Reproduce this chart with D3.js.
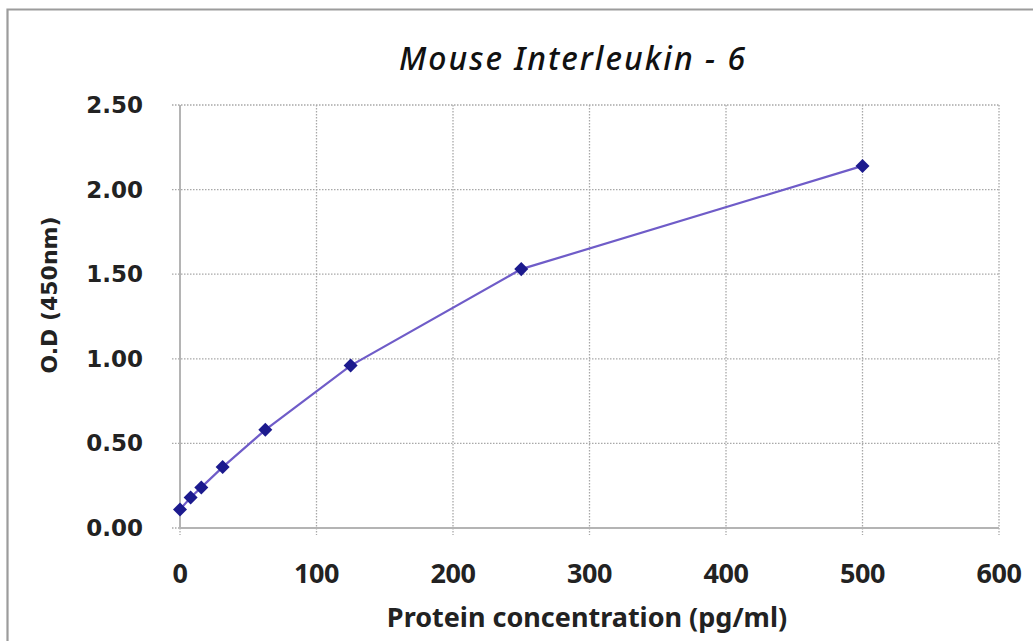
<!DOCTYPE html>
<html>
<head>
<meta charset="utf-8">
<script src="https://cdn.jsdelivr.net/npm/d3@7"></script>
<style>
  body { margin: 0; background: #fff; }
  svg { display: block; }
</style>
</head>
<body>
<div id="chart"></div>
<script>
// data
const concentrations = [0, 7.8, 15.6, 31.25, 62.5, 125, 250, 500];
const odValues = [0.11, 0.18, 0.24, 0.36, 0.58, 0.96, 1.53, 2.14];
const xTicks = [0, 100, 200, 300, 400, 500, 600];
const yTicks = [0, 0.5, 1.0, 1.5, 2.0, 2.5];

const W = 1033, H = 641;
const margin = { top: 105, right: 34, bottom: 113, left: 180 };
const width = W - margin.left - margin.right,
      height = H - margin.top - margin.bottom;

const svg = d3.select("#chart").append("svg")
    .attr("width", W).attr("height", H);

// outer frame (only top and left edges visible)
svg.append("path")
    .attr("d", `M7.5,${H + 5} V9.5 H${W + 5}`)
    .attr("fill", "none")
    .attr("stroke", "#9c9c9c")
    .attr("stroke-width", 2.2);

const g = svg.append("g")
    .attr("transform", `translate(${margin.left},${margin.top})`);

const x = d3.scaleLinear().domain([0, 600]).range([0, width]);
const y = d3.scaleLinear().domain([0, 2.5]).range([height, 0]);

// grid
g.append("g").selectAll("line")
    .data(yTicks)
    .join("line")
    .attr("x1", -8).attr("x2", width)
    .attr("y1", d => y(d)).attr("y2", d => y(d))
    .attr("stroke", "#a8a8a8")
    .attr("stroke-width", 1.3)
    .attr("stroke-dasharray", "1.5,1.5");

g.append("g").selectAll("line")
    .data(xTicks)
    .join("line")
    .attr("x1", d => x(d)).attr("x2", d => x(d))
    .attr("y1", 0).attr("y2", height + 7)
    .attr("stroke", "#a8a8a8")
    .attr("stroke-width", 1.3)
    .attr("stroke-dasharray", "1.5,1.5");

// axis lines
g.append("line")
    .attr("x1", 0).attr("x2", 0).attr("y1", 0).attr("y2", height)
    .attr("stroke", "#b4b4b4").attr("stroke-width", 2);
g.append("line")
    .attr("x1", 0).attr("x2", width).attr("y1", height).attr("y2", height)
    .attr("stroke", "#b4b4b4").attr("stroke-width", 2);

// tick labels
g.append("g").selectAll("text")
    .data(yTicks)
    .join("text")
    .attr("x", -37)
    .attr("y", d => y(d) + 8)
    .attr("text-anchor", "end")
    .style("font-family", "DejaVu Sans, sans-serif")
    .style("font-weight", "bold")
    .style("font-size", "23px")
    .attr("fill", "#222")
    .text(d => d3.format(".2f")(d));

g.append("g").selectAll("text")
    .data(xTicks)
    .join("text")
    .attr("x", d => x(d))
    .attr("y", height + 55)
    .attr("text-anchor", "middle")
    .style("font-family", "Noto Sans, sans-serif")
    .style("font-weight", "bold")
    .style("font-size", "27px")
    .style("letter-spacing", "-0.5px")
    .attr("fill", "#222")
    .text(d => d);

// axis titles
svg.append("text")
    .attr("x", 587).attr("y", 627)
    .attr("text-anchor", "middle")
    .style("font-family", "Noto Sans, sans-serif")
    .style("font-weight", "bold")
    .style("font-size", "27px")
    .attr("fill", "#222")
    .text("Protein concentration  (pg/ml)");

svg.append("text")
    .attr("transform", "translate(57,295) rotate(-90)")
    .attr("text-anchor", "middle")
    .style("font-family", "DejaVu Sans, sans-serif")
    .style("font-weight", "bold")
    .style("font-size", "22px")
    .attr("fill", "#222")
    .text("O.D (450nm)");

// title
svg.append("text")
    .attr("x", 573).attr("y", 70)
    .attr("text-anchor", "middle")
    .style("font-family", "Noto Sans, sans-serif")
    .style("font-style", "italic")
    .style("font-weight", "500")
    .style("font-size", "32px")
    .style("letter-spacing", "2px")
    .attr("fill", "#111")
    .text("Mouse Interleukin - 6");

// curve
const pts = concentrations.map((c, i) => [c, odValues[i]]);
g.append("path")
    .datum(pts)
    .attr("fill", "none")
    .attr("stroke", "#6f5cc8")
    .attr("stroke-width", 2.2)
    .attr("d", d3.line().x(d => x(d[0])).y(d => y(d[1])));

g.append("g").selectAll("path")
    .data(pts)
    .join("path")
    .attr("transform", d => `translate(${x(d[0])},${y(d[1])})`)
    .attr("d", d3.symbol(d3.symbolDiamond2, 125))
    .attr("fill", "#1c1a8e");
</script>
</body>
</html>
